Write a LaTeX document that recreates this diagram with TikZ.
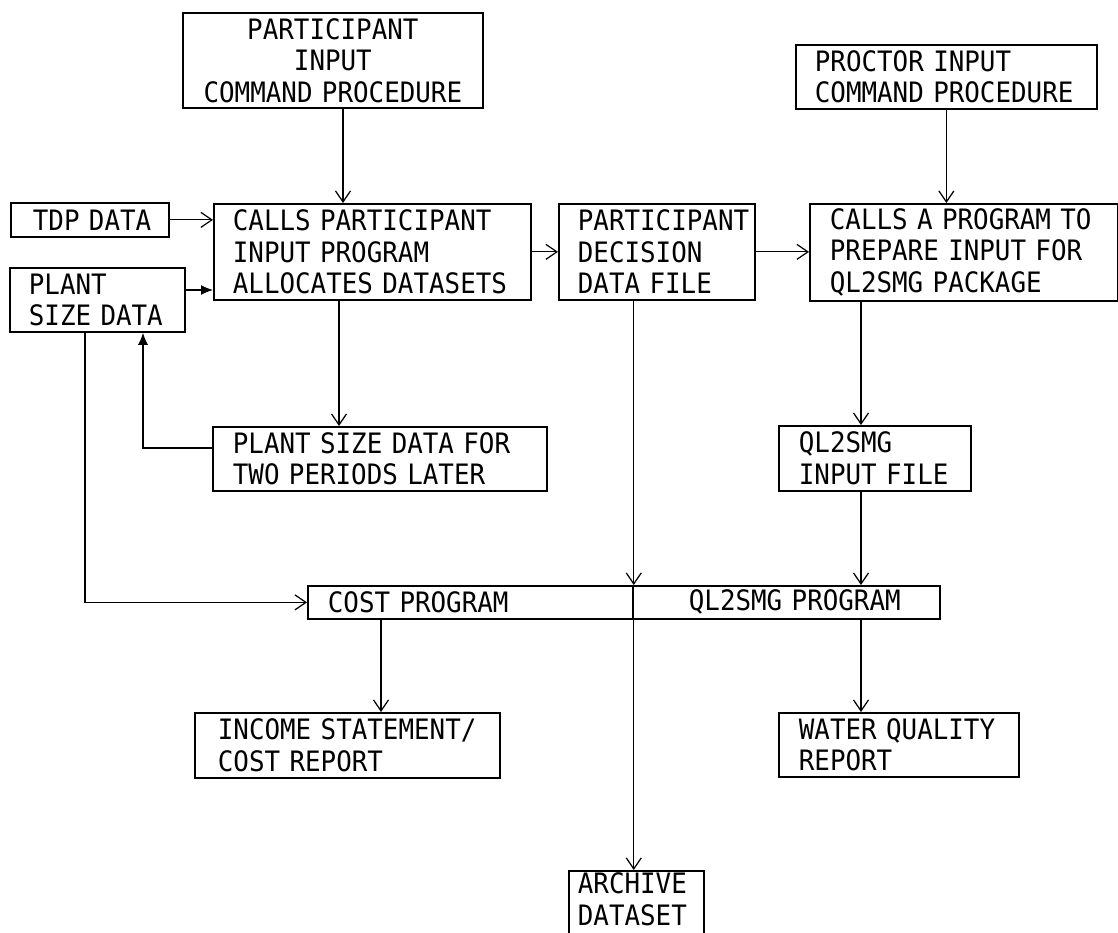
\documentclass[tikz,border=0pt]{standalone}
\usepackage{fontspec}
\usepackage{tikz}
\usetikzlibrary{arrows.meta,positioning,calc}
\newfontfamily\plotfont[FakeStretch=0.92,WordSpace=1.6]{DejaVu Sans Mono}

\begin{document}
\begin{tikzpicture}[
    box/.style={rectangle, draw, line width=1pt, anchor=north west, inner sep=0pt, align=left, font={\plotfont\fontsize{16}{17.9}\selectfont}, execute at begin node={\leftskip=#1}},
    box/.default=0.38cm,
    cbox/.style={box=0pt, execute at begin node={\leftskip=0pt plus 1fil\rightskip=0pt plus 1fil\parfillskip=0pt}},
    arr/.style={-{Straight Barb[length=2.2mm,width=3mm]}, line width=0.7pt},
    farr/.style={-{Latex[length=2.4mm,width=2mm]}, line width=0.7pt},
]
\useasboundingbox (0,0) rectangle (22.36,-18.66);

\node[cbox, text width=6cm, minimum height=1.9cm] (pcmd) at (3.64,-0.24) {PARTICIPANT\\INPUT\\COMMAND PROCEDURE};
\node[box, text width=6.02cm, minimum height=1.28cm] (prcmd) at (15.9,-0.88) {PROCTOR INPUT\\COMMAND PROCEDURE};

\node[box=0.44cm, text width=3.16cm, minimum height=0.68cm] (tdp) at (0.2,-4.04) {TDP DATA};
\node[box, text width=6.34cm, minimum height=1.92cm] (cpin) at (4.26,-4.06) {CALLS PARTICIPANT\\INPUT PROGRAM\\ALLOCATES DATASETS};
\node[box, text width=3.5cm, minimum height=1.28cm] (plant) at (0.18,-5.34) {PLANT\\SIZE DATA};
\node[box, text width=3.92cm, minimum height=1.92cm] (pdec) at (11.16,-4.06) {PARTICIPANT\\DECISION\\DATA FILE};
\node[box=0.4cm, text width=6.16cm, minimum height=1.94cm] (cprep) at (16.18,-4.06) {CALLS A PROGRAM TO\\PREPARE INPUT FOR\\QL2SMG PACKAGE};

\node[box=0.4cm, text width=6.68cm, minimum height=1.28cm] (later) at (4.24,-8.52) {PLANT SIZE DATA FOR\\TWO PERIODS LATER};
\node[box=0.4cm, text width=3.84cm, minimum height=1.3cm] (qlin) at (15.56,-8.5) {QL2SMG\\INPUT FILE};

\node[box=0.4cm, text width=6.5cm, minimum height=0.66cm] (costp) at (6.14,-11.7) {COST PROGRAM};
\node[box=1.12cm, text width=6.14cm, minimum height=0.66cm] (qlprog) at (12.64,-11.7) {QL2SMG PROGRAM};

\node[box=0.46cm, text width=6.1cm, minimum height=1.3cm] (income) at (3.88,-14.24) {INCOME STATEMENT/\\COST REPORT};
\node[box=0.4cm, text width=4.8cm, minimum height=1.28cm] (wq) at (15.56,-14.24) {WATER QUALITY\\REPORT};
\node[box=0.18cm, text width=2.7cm, text depth=0.85cm, minimum height=1.34cm] (arch) at (11.36,-17.4) {ARCHIVE\\DATASET};

\coordinate (px) at (6.86,0);
\coordinate (lx) at (6.78,0);
\coordinate (qx) at (17.22,0);
\coordinate (cx) at (7.62,0);
\coordinate (fx) at (2.86,0);
\coordinate (sx) at (1.70,0);
\coordinate (py) at (0,-5.8);
\coordinate (fy) at (0,-8.96);

\draw[arr] (pcmd.south -| px) -- (cpin.north -| px);
\draw[arr] (prcmd.south) -- (prcmd.south |- cprep.north);
\draw[arr] (tdp.east) -- (tdp.east -| cpin.west);
\draw[farr] (plant.east |- py) -- (cpin.west |- py);
\draw[arr] (cpin.east) -- (cpin.east -| pdec.west);
\draw[arr] (pdec.east) -- (pdec.east -| cprep.west);
\draw[arr] (cpin.south -| lx) -- (later.north -| lx);
\draw[farr] (later.west |- fy) -- (fx |- fy) -- (fx |- plant.south);
\draw[arr] (plant.south -| sx) -- (sx |- costp.west) -- (costp.west);
\draw[arr] (cprep.south -| qx) -- (qlin.north -| qx);
\draw[arr] (qlin.south -| qx) -- (qlprog.north -| qx);
\draw[arr] (qlprog.south -| qx) -- (wq.north -| qx);
\draw[arr] (costp.south -| cx) -- (income.north -| cx);
\draw[arr] (pdec.south -| costp.north east) -- (costp.north east);
\draw[arr] (costp.north east) -- (arch.north -| costp.north east);
\end{tikzpicture}
\end{document}
